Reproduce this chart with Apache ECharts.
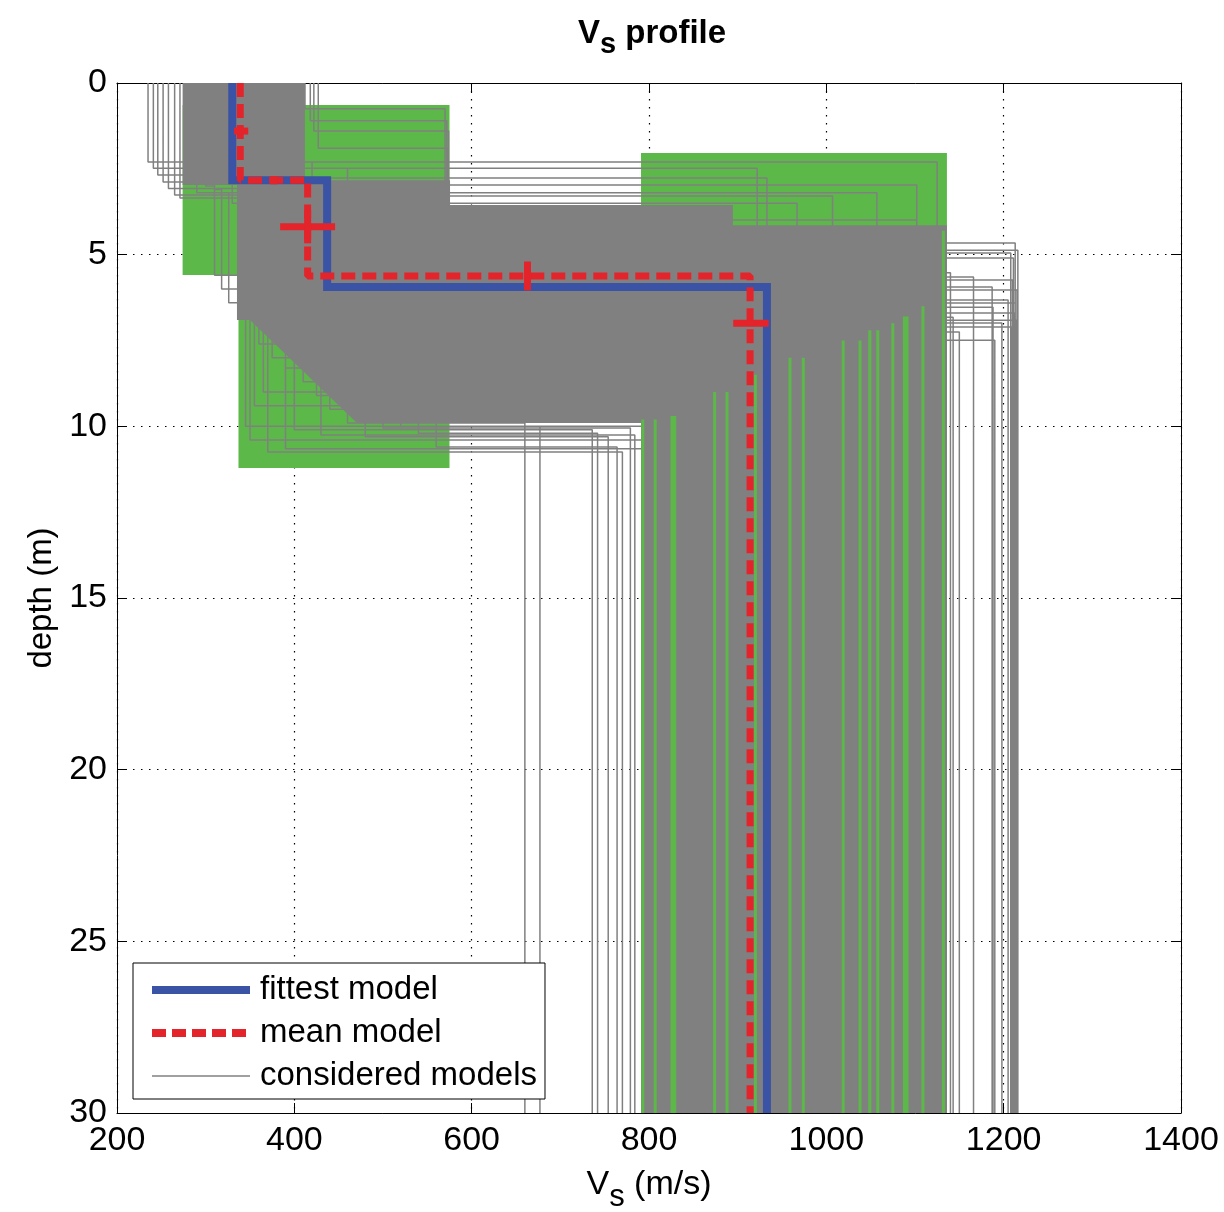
<!DOCTYPE html>
<html><head><meta charset="utf-8">
<script src="https://cdn.jsdelivr.net/npm/echarts@6/dist/echarts.min.js"></script>
<style>html,body{margin:0;padding:0;background:#fff}#c{width:1224px;height:1212px}</style>
</head><body><div id="c"></div>
<script>
// ---------- axes ----------
const xTicks = [200, 400, 600, 800, 1000, 1200, 1400];
const yTicks = [0, 5, 10, 15, 20, 25, 30];
const maxDepth = 30;

// ---------- fittest and mean models (3-layer step profiles) ----------
const fittestVs = [330, 437, 933];
const fittestZ = [2.83, 5.94];
const meanVs = [339, 415, 914];
const meanZ = [2.83, 5.62];
// mean-model error bars: centre Vs, centre depth, half-range Vs, half-range depth
const errV = [340, 377, 415, 663, 915];
const errD = [1.40, 2.83, 4.19, 5.62, 7.00];
const errDV = [8, 0, 31, 4, 20];
const errDD = [0, 0.12, 0.48, 0.42, 0.08];

// ---------- search-space boxes (Vs min, Vs max, depth top, depth bottom) ----------
const boxVmin = [274, 337, 791];
const boxVmax = [575, 575, 1136];
const boxDtop = [0.64, 5.60, 2.04];
const boxDbot = [5.59, 11.21, 30];

// ---------- dense cloud of considered models (outline) ----------
const denseV = [274, 412, 412, 575.6, 575.6, 894.7, 894.7, 1136, 1136, 791, 791, 470.7, 350, 335.3, 335.3, 274];
const denseD = [0, 0, 2.83, 2.83, 3.55, 3.55, 4.14, 4.14, 30, 30, 9.90, 9.90, 6.90, 6.90, 2.97, 2.97];

// ---------- individual considered models (visible outliers) ----------
const modelV1 = [235, 241, 246, 252, 258, 265, 271,
  412, 418, 422, 427,
  300, 320, 350, 380, 310, 360, 330, 345,
  360, 365, 370, 375, 380, 385, 390, 395, 400, 355, 350, 345, 360, 370, 380, 390, 400, 365, 375,
  340, 360, 380, 350, 370, 390, 345, 365, 355,
  340, 355, 370, 345, 360,
  300, 310, 290,
  350, 360, 355, 365, 345, 370];
const modelZ1 = [2.30, 2.48, 2.68, 2.88, 3.07, 3.26, 3.35,
  0.75, 1.10, 1.40, 1.90,
  2.30, 2.48, 2.77, 2.97, 3.20, 3.29, 3.50, 3.99,
  3.70, 3.80, 3.90, 4.00, 3.75, 3.85, 3.95, 4.05, 3.70, 3.80, 3.90, 4.00, 4.10, 3.75, 3.85, 3.95, 4.05, 3.72, 3.88,
  2.90, 3.10, 3.00, 2.95, 3.05, 3.20, 2.85, 3.15, 3.00,
  3.00, 3.05, 3.10, 3.00, 3.05,
  3.00, 3.10, 3.20,
  3.00, 3.05, 3.10, 3.15, 3.00, 3.05];
const modelV2 = [420, 460, 400, 480, 440, 500, 430,
  570, 572, 574, 573,
  1125, 922, 933, 1102, 1057, 1007, 967, 1102,
  700, 720, 650, 800, 760, 680, 840, 610, 880, 740, 700, 660, 820, 780, 640, 860, 720, 690, 750,
  460, 520, 400, 540, 480, 560, 370, 500, 430,
  345, 350, 390, 355, 365,
  310, 318, 326,
  360, 375, 390, 410, 425, 440];
const modelZ2 = [6.00, 7.50, 5.50, 8.00, 6.50, 7.00, 5.80,
  5.00, 6.50, 7.20, 8.00,
  6.50, 7.00, 8.50, 7.80, 6.20, 8.80, 9.20, 7.40,
  4.66, 4.87, 4.95, 5.10, 5.53, 5.65, 5.74, 5.94, 6.03, 6.32, 6.41, 6.53, 6.70, 6.82, 6.91, 6.99, 7.11, 7.25, 7.49,
  9.90, 10.00, 10.10, 10.20, 10.30, 10.60, 10.75, 10.05, 10.25,
  10.00, 10.40, 10.65, 9.40, 9.00,
  5.60, 6.00, 6.40,
  7.60, 8.00, 8.30, 8.70, 9.10, 9.50];
const modelV3 = [850, 900, 950, 1000, 880, 920, 1050,
  880, 960, 1010, 900,
  900, 980, 1080, 850, 1000, 940, 1100, 870,
  1213, 1216, 1208, 1211, 1140, 1166, 1210, 1187, 1215, 1205, 1213, 1188, 1212, 1143, 1214, 1198, 1209, 1150, 1190,
  660, 677, 736, 742, 754, 764, 770, 779, 784,
  820, 900, 850, 960, 1010,
  880, 950, 1020,
  900, 860, 990, 940, 1040, 880];

// ---------- green gaps visible inside the deep part of the cloud ----------
const greenLineV = [793, 807, 826, 829, 874, 888, 920, 959, 974, 1019, 1038, 1049, 1058, 1075, 1088, 1091, 1109, 1132];
const greenLineTop = [9.8, 9.8, 9.7, 9.7, 9.0, 9.0, 8.5, 8.0, 8.0, 7.5, 7.5, 7.2, 7.2, 7.0, 6.8, 6.8, 6.5, 4.3];

// ---------- helpers ----------
function stepProfile(vs, zs) {
  const pts = [];
  let top = 0;
  for (let i = 0; i < vs.length; i++) {
    const bot = i < zs.length ? zs[i] : maxDepth;
    pts.push([vs[i], top]);
    pts.push([vs[i], bot]);
    top = bot;
  }
  return pts;
}
const consideredData = [];
for (let i = 0; i < modelV1.length; i++) {
  stepProfile([modelV1[i], modelV2[i], modelV3[i]], [modelZ1[i], modelZ2[i]]).forEach(p => consideredData.push(p));
  consideredData.push(['-', '-']);
}
const greenData = [];
for (let i = 0; i < greenLineV.length; i++) {
  greenData.push([greenLineV[i], greenLineTop[i]]);
  greenData.push([greenLineV[i], maxDepth]);
  greenData.push(['-', '-']);
}
const boxData = boxVmin.map((v, i) => [v, boxVmax[i], boxDtop[i], boxDbot[i]]);
const denseData = denseV.map((v, i) => [v, denseD[i]]);
const errData = errV.map((v, i) => [v, errD[i], errDV[i], errDD[i]]);

const FONT = 'Liberation Sans, Arial, sans-serif';
const GRAY = '#808080';
const GREEN = '#5cb848';
const BLUE = '#3a53a4';
const RED = '#e3242b';

const chart = echarts.init(document.getElementById('c'), null, {renderer: 'canvas'});
const dotted = {color: '#000', width: 1.2, type: [1.5, 6.5]};
const tickIn = {show: true, inside: true, length: 10, lineStyle: {color: '#000', width: 1}};
const plain = v => String(v);
chart.setOption({
  animation: false,
  backgroundColor: '#fff',
  title: {
    text: '{v|V}{s|s}{p| profile}',
    left: 647, textAlign: 'center', top: 12,
    textStyle: {
      fontFamily: FONT, color: '#000',
      rich: {
        v: {fontSize: 33, fontWeight: 'bold', fontFamily: FONT, lineHeight: 36, verticalAlign: 'top'},
        s: {fontSize: 29, fontWeight: 'bold', fontFamily: FONT, lineHeight: 36, verticalAlign: 'top', padding: [13, 0, 0, 0]},
        p: {fontSize: 33, fontWeight: 'bold', fontFamily: FONT, lineHeight: 36, verticalAlign: 'top'}
      }
    }
  },
  grid: {left: 117, right: 43, top: 83, bottom: 99, containLabel: false, outerBoundsMode: 'none'},
  xAxis: [{
    type: 'value', position: 'bottom', min: 200, max: 1400, interval: 200,
    axisLine: {show: true, onZero: false, lineStyle: {color: '#000', width: 1}},
    axisTick: tickIn,
    axisLabel: {fontSize: 34, color: '#000', fontFamily: FONT, margin: 11, formatter: plain},
    splitLine: {show: true, lineStyle: dotted},
    name: '{a|V}{b|s}{a| (m/s)}', nameLocation: 'middle', nameGap: 55,
    nameTextStyle: {
      color: '#000', fontFamily: FONT,
      rich: {
        a: {fontSize: 34, fontFamily: FONT, lineHeight: 36, verticalAlign: 'top'},
        b: {fontSize: 31, fontFamily: FONT, lineHeight: 36, verticalAlign: 'top', padding: [14, 0, 0, 0]}
      }
    }
  }, {
    type: 'value', position: 'top', min: 200, max: 1400, interval: 200,
    axisLine: {show: true, onZero: false, lineStyle: {color: '#000', width: 1}},
    axisTick: tickIn, axisLabel: {show: false}, splitLine: {show: false}
  }],
  yAxis: [{
    type: 'value', position: 'left', inverse: true, min: 0, max: 30, interval: 5,
    axisLine: {show: true, onZero: false, lineStyle: {color: '#000', width: 1}},
    axisTick: tickIn,
    axisLabel: {fontSize: 34, color: '#000', fontFamily: FONT, margin: 10, formatter: plain},
    splitLine: {show: true, lineStyle: dotted},
    name: 'depth (m)', nameLocation: 'middle', nameGap: 59, nameRotate: 90,
    nameTextStyle: {fontSize: 33, color: '#000', fontFamily: FONT}
  }, {
    type: 'value', position: 'right', inverse: true, min: 0, max: 30, interval: 5,
    axisLine: {show: true, onZero: false, lineStyle: {color: '#000', width: 1}},
    axisTick: tickIn, axisLabel: {show: false}, splitLine: {show: false}
  }],
  legend: {
    data: [
      {name: 'fittest model', lineStyle: {width: 8, color: BLUE}},
      {name: 'mean model', lineStyle: {width: 8, color: RED, type: [14, 6]}},
      {name: 'considered models', lineStyle: {width: 1.5, color: GRAY}}
    ],
    orient: 'vertical', left: 133, top: 963,
    backgroundColor: '#fff', borderColor: '#000', borderWidth: 1, borderRadius: 0,
    padding: [9, 8, 5, 15], itemGap: 7, itemWidth: 98, itemHeight: 14,
    itemStyle: {opacity: 0},
    textStyle: {fontSize: 33, color: '#000', fontFamily: FONT, lineHeight: 36, padding: [0, 0, 0, 5]},
    selectedMode: false, z: 30
  },
  series: [
    {
      name: 'boxes', type: 'custom', z: 1, silent: true,
      encode: {x: [0, 1], y: [2, 3]},
      data: boxData,
      renderItem: function (params, api) {
        const p0 = api.coord([api.value(0), api.value(2)]);
        const p1 = api.coord([api.value(1), api.value(3)]);
        return {type: 'rect', shape: {x: p0[0], y: p0[1], width: p1[0] - p0[0], height: p1[1] - p0[1]},
          style: {fill: GREEN}};
      }
    },
    {
      name: 'considered models', type: 'line', z: 2, silent: true,
      data: consideredData, symbol: 'none', connectNulls: false,
      lineStyle: {color: GRAY, width: 1.5}, itemStyle: {color: GRAY}
    },
    {
      name: 'cloud', type: 'custom', z: 3, silent: true,
      encode: {x: 0, y: 1},
      data: denseData,
      renderItem: function (params, api) {
        if (params.dataIndex !== 0) return null;
        const pts = denseV.map((v, i) => api.coord([v, denseD[i]]));
        return {type: 'polygon', shape: {points: pts}, style: {fill: GRAY}};
      }
    },
    {
      name: 'gaps', type: 'line', z: 4, silent: true,
      data: greenData, symbol: 'none', connectNulls: false,
      lineStyle: {color: GREEN, width: 3}
    },
    {
      name: 'fittest model', type: 'line', z: 5, silent: true,
      data: stepProfile(fittestVs, fittestZ), symbol: 'none',
      lineStyle: {color: BLUE, width: 8, cap: 'butt', join: 'miter'}, itemStyle: {color: BLUE}
    },
    {
      name: 'mean model', type: 'line', z: 6, silent: true,
      data: stepProfile(meanVs, meanZ), symbol: 'none',
      lineStyle: {color: RED, width: 7, type: [14, 7], cap: 'butt'}, itemStyle: {color: RED}
    },
    {
      name: 'errors', type: 'custom', z: 7, silent: true,
      encode: {x: 0, y: 1},
      data: errData,
      renderItem: function (params, api) {
        const v = api.value(0), d = api.value(1), dv = api.value(2), dd = api.value(3);
        const children = [];
        if (dv > 0) {
          const a = api.coord([v - dv, d]), b = api.coord([v + dv, d]);
          children.push({type: 'line', shape: {x1: a[0], y1: a[1], x2: b[0], y2: b[1]}, style: {stroke: RED, lineWidth: 7}});
        }
        if (dd > 0) {
          const a = api.coord([v, d - dd]), b = api.coord([v, d + dd]);
          children.push({type: 'line', shape: {x1: a[0], y1: a[1], x2: b[0], y2: b[1]}, style: {stroke: RED, lineWidth: 7}});
        }
        return {type: 'group', children: children};
      }
    }
  ]
});
</script>
</body></html>
